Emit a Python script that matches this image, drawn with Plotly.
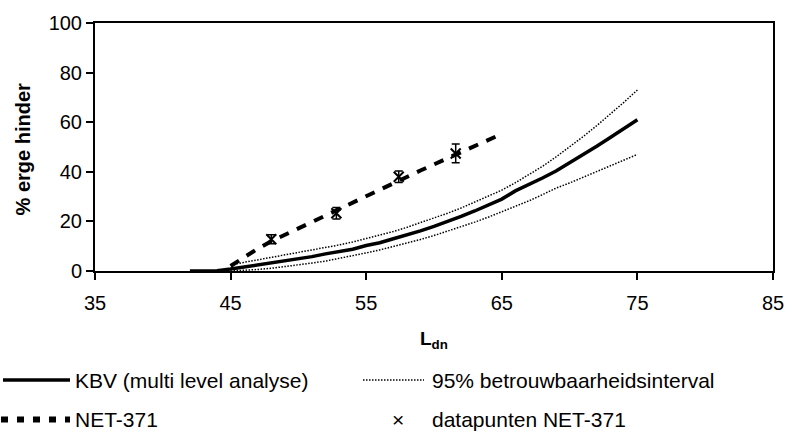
import plotly.graph_objects as go

# KBV (multi level analyse)
kbv_x = list(range(42, 76))
kbv_y = [0, 0, 0.1, 0.8, 1.6, 2.4, 3.2, 4.0, 4.9, 5.8, 6.9, 7.7, 8.8, 10.3, 11.4, 13.0,
         14.5, 16.2, 18.0, 19.9, 22.0, 24.2, 26.5, 29.0, 32.3, 34.8, 37.5, 40.3, 43.5,
         46.8, 50.3, 53.8, 57.4, 61.0]

# 95% betrouwbaarheidsinterval
ci_x = list(range(45, 76))
ci_upper = [2.5, 3.5, 4.4, 5.3, 6.2, 7.2, 8.2, 9.3, 10.5, 11.7, 13.0, 14.4, 15.9, 17.6,
            19.4, 21.3, 23.3, 25.4, 27.7, 30.0, 32.6, 35.6, 38.8, 42.2, 46.0, 50.0, 54.2,
            58.6, 63.2, 68.0, 73.0]
ci_lower = [0, 0.2, 0.6, 1.1, 1.7, 2.4, 3.2, 4.0, 5.0, 6.1, 7.3, 8.5, 9.8, 11.2, 12.7,
            14.3, 16.0, 17.8, 19.7, 21.7, 23.8, 26.0, 28.3, 30.8, 33.4, 35.5, 37.8, 40.1,
            42.4, 44.7, 47.0]

# NET-371
net_x = list(range(45, 66))
net_y = [2.0, 5.5, 9.0, 12.0, 14.6, 17.2, 20.0, 22.7, 25.3, 27.9, 30.5, 33.0, 35.5,
         38.0, 40.5, 43.0, 45.5, 48.0, 50.5, 52.9, 55.3]

# datapunten NET-371
pts_x = [48.0, 52.8, 57.4, 61.6]
pts_y = [12.8, 23.3, 38.0, 47.4]
pts_err = [1.8, 2.3, 2.3, 3.8]

x_ticks = [35, 45, 55, 65, 75, 85]
y_ticks = [0, 20, 40, 60, 80, 100]

FONT = "Liberation Sans, Arial, sans-serif"

fig = go.Figure()
fig.add_trace(go.Scatter(x=ci_x, y=ci_upper, mode="lines",
                         line=dict(color="black", width=1.5, dash="1.5px,1.5px"),
                         showlegend=False, hoverinfo="skip"))
fig.add_trace(go.Scatter(x=ci_x, y=ci_lower, mode="lines",
                         line=dict(color="black", width=1.5, dash="1.5px,1.5px"),
                         showlegend=False, hoverinfo="skip"))
fig.add_trace(go.Scatter(x=kbv_x, y=kbv_y, mode="lines",
                         line=dict(color="black", width=3.5),
                         showlegend=False))
fig.add_trace(go.Scatter(x=net_x, y=net_y, mode="lines",
                         line=dict(color="black", width=4, dash="10px,9px"),
                         showlegend=False))
fig.add_trace(go.Scatter(x=pts_x, y=pts_y, mode="markers",
                         marker=dict(symbol="x-thin", size=10, color="black",
                                     line=dict(color="black", width=2)),
                         error_y=dict(type="data", array=pts_err, visible=True,
                                      color="black", thickness=1.5, width=4),
                         showlegend=False))

W, H = 796, 437
L, R, T, B = 95, 23, 14, 166
pw, ph = W - L - R, H - T - B


def px(xp):
    return (xp - L) / pw


def py(yp):
    return (H - B - yp) / ph


shapes = []
annotations = []
LEG = 21

# legend row 1
shapes.append(dict(type="line", xref="paper", yref="paper", x0=px(3), x1=px(70),
                   y0=py(384), y1=py(384), line=dict(color="black", width=3.5)))
annotations.append(dict(x=px(73), y=py(384), xref="paper", yref="paper",
                        text="KBV (multi level analyse)", showarrow=False,
                        xanchor="left", yanchor="middle",
                        font=dict(family=FONT, size=LEG, color="black")))
shapes.append(dict(type="line", xref="paper", yref="paper", x0=px(363), x1=px(424),
                   y0=py(384), y1=py(384),
                   line=dict(color="black", width=1.5, dash="1.5px,1.5px")))
annotations.append(dict(x=px(430), y=py(384), xref="paper", yref="paper",
                        text="95% betrouwbaarheidsinterval", showarrow=False,
                        xanchor="left", yanchor="middle",
                        font=dict(family=FONT, size=LEG, color="black")))
# legend row 2
shapes.append(dict(type="line", xref="paper", yref="paper", x0=px(1), x1=px(70),
                   y0=py(425), y1=py(425),
                   line=dict(color="black", width=6, dash="7px,9px")))
annotations.append(dict(x=px(73), y=py(425), xref="paper", yref="paper",
                        text="NET-371", showarrow=False,
                        xanchor="left", yanchor="middle",
                        font=dict(family=FONT, size=LEG, color="black")))
annotations.append(dict(x=px(398), y=py(425), xref="paper", yref="paper",
                        text="×", showarrow=False,
                        xanchor="center", yanchor="middle",
                        font=dict(family=FONT, size=LEG, color="black")))
annotations.append(dict(x=px(430), y=py(425), xref="paper", yref="paper",
                        text="datapunten NET-371", showarrow=False,
                        xanchor="left", yanchor="middle",
                        font=dict(family=FONT, size=LEG, color="black")))

# axis titles
annotations.append(dict(x=px(23), y=py(145), xref="paper", yref="paper",
                        text="<b>% erge hinder</b>", showarrow=False, textangle=-90,
                        xanchor="center", yanchor="middle",
                        font=dict(family=FONT, size=20, color="black")))
annotations.append(dict(x=px(434), y=py(342), xref="paper", yref="paper",
                        text="<b>L<sub>dn</sub></b>", showarrow=False,
                        xanchor="center", yanchor="middle",
                        font=dict(family=FONT, size=19, color="black")))

fig.update_layout(
    width=W, height=H,
    margin=dict(l=L, r=R, t=T, b=B, pad=0),
    paper_bgcolor="white", plot_bgcolor="white",
    font=dict(family=FONT, size=20, color="black"),
    shapes=shapes, annotations=annotations,
    showlegend=False,
)
fig.update_xaxes(range=[35, 85], tickvals=x_ticks, ticktext=[str(v) for v in x_ticks],
                 showgrid=False, zeroline=False, showline=True, linecolor="black",
                 linewidth=2, mirror=True, ticks="outside", ticklen=7, tickwidth=2,
                 tickcolor="black", ticklabelstandoff=6,
                 tickfont=dict(family=FONT, size=20, color="black"))
fig.update_yaxes(range=[0, 100], tickvals=y_ticks, ticktext=[str(v) for v in y_ticks],
                 showgrid=False, zeroline=False, showline=True, linecolor="black",
                 linewidth=2, mirror=True, ticks="outside", ticklen=7, tickwidth=2,
                 tickcolor="black",
                 tickfont=dict(family=FONT, size=20, color="black"))

fig.write_html("out.html")
